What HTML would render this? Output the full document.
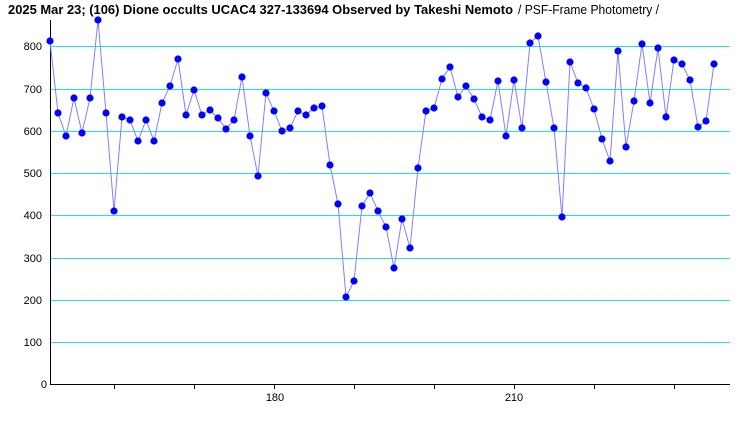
<!DOCTYPE html>
<html><head><meta charset="utf-8"><style>
html,body{margin:0;padding:0;background:#fff;}
svg{display:block;font-family:"Liberation Sans","Noto Sans CJK JP",sans-serif;}
</style></head><body>
<svg width="740" height="425" viewBox="0 0 740 425" xmlns="http://www.w3.org/2000/svg">
<defs><marker id="m" viewBox="-5 -5 10 10" markerWidth="9" markerHeight="9" refX="0" refY="0" markerUnits="userSpaceOnUse"><circle r="4" fill="#0000ff"/></marker></defs>
<text x="8" y="14" font-size="13" font-weight="bold" textLength="505" lengthAdjust="spacingAndGlyphs">2025 Mar 23; (106) Dione occults UCAC4 327-133694 Observed by Takeshi Nemoto</text>
<text x="518" y="14" font-size="13" textLength="141" lengthAdjust="spacingAndGlyphs">/ PSF-Frame Photometry /</text>
<g stroke="#20e0e8" stroke-width="1">
<line x1="51" y1="46.5" x2="730" y2="46.5"/><line x1="51" y1="89.5" x2="730" y2="89.5"/><line x1="51" y1="131.5" x2="730" y2="131.5"/><line x1="51" y1="173.5" x2="730" y2="173.5"/><line x1="51" y1="215.5" x2="730" y2="215.5"/><line x1="51" y1="258.5" x2="730" y2="258.5"/><line x1="51" y1="300.5" x2="730" y2="300.5"/><line x1="51" y1="342.5" x2="730" y2="342.5"/>
</g>
<g font-size="11" text-anchor="end">
<text x="42" y="50">800</text><text x="42" y="93">700</text><text x="42" y="135">600</text><text x="42" y="177">500</text><text x="42" y="219">400</text><text x="42" y="262">300</text><text x="42" y="304">200</text><text x="42" y="346">100</text><text x="47" y="388">0</text>
</g>
<g stroke="#000" stroke-width="1">
<line x1="50.5" y1="20" x2="50.5" y2="385"/><line x1="50" y1="384.5" x2="730" y2="384.5"/>
<line x1="114.5" y1="384" x2="114.5" y2="389"/><line x1="194.5" y1="384" x2="194.5" y2="389"/><line x1="274.5" y1="384" x2="274.5" y2="389"/><line x1="354.5" y1="384" x2="354.5" y2="389"/><line x1="434.5" y1="384" x2="434.5" y2="389"/><line x1="514.5" y1="384" x2="514.5" y2="389"/><line x1="594.5" y1="384" x2="594.5" y2="389"/><line x1="674.5" y1="384" x2="674.5" y2="389"/>
</g>
<g font-size="11" text-anchor="middle"><text x="275" y="401">180</text><text x="514" y="401">210</text></g>
<polyline fill="none" stroke="#8080ff" stroke-width="1" marker-start="url(#m)" marker-mid="url(#m)" marker-end="url(#m)" points="50,41 58,113 66,136 74,98 82,133 90,98 98,20 106,113 114,211 122,117 130,120 138,141 146,120 154,141 162,103 170,86 178,59 186,115 194,90 202,115 210,110 218,118 226,129 234,120 242,77 250,136 258,176 266,93 274,111 282,131 290,128 298,111 306,115 314,108 322,106 330,165 338,204 346,297 354,281 362,206 370,193 378,211 386,227 394,268 402,219 410,248 418,168 426,111 434,108 442,79 450,67 458,97 466,86 474,99 482,117 490,120 498,81 506,136 514,80 522,128 530,43 538,36 546,82 554,128 562,217 570,62 578,83 586,88 594,109 602,139 610,161 618,51 626,147 634,101 642,44 650,103 658,48 666,117 674,60 682,64 690,80 698,127 706,121 714,64"/>
</svg>
</body></html>
